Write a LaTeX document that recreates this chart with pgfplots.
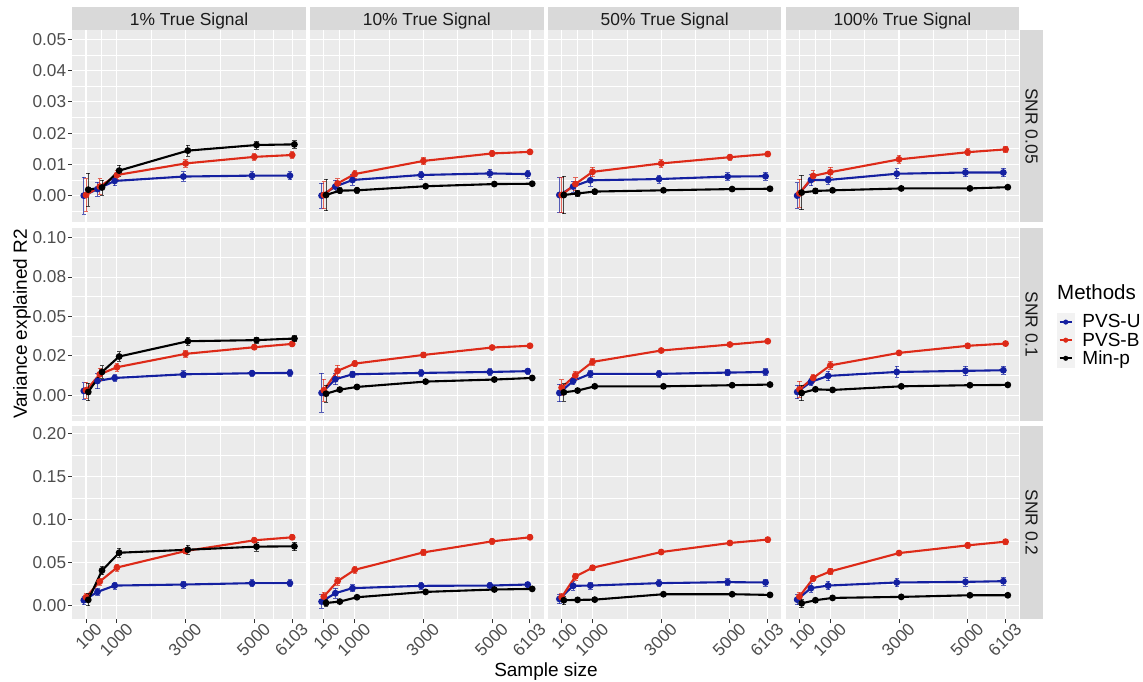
\documentclass[border=0pt]{standalone}
\usepackage{pgfplots}
\pgfplotsset{compat=1.18}
\usepackage{pgfplotstable}
\usepackage{fontspec}
\setmainfont{Liberation Sans}
\definecolor{panelbg}{HTML}{EBEBEB}
\definecolor{stripbg}{HTML}{D9D9D9}
\definecolor{gray30}{HTML}{4D4D4D}
\definecolor{gray20}{HTML}{333333}
\definecolor{striptxt}{HTML}{1A1A1A}
\definecolor{keybg}{HTML}{F2F2F2}
\definecolor{cU}{HTML}{1420A0}
\definecolor{cB}{HTML}{DD2A18}
\definecolor{cM}{HTML}{000000}
\newcommand\tickfont{\fontsize{17.2bp}{20bp}\selectfont}
\newcommand\stripfont{\fontsize{17.4bp}{20bp}\selectfont}
\newcommand\titlefont{\fontsize{19bp}{22bp}\selectfont}
\newcommand\legtitlefont{\fontsize{20.5bp}{24bp}\selectfont}
\newcommand\legfont{\fontsize{19bp}{22bp}\selectfont}

% columns: n  u eu (PVS-U)  b eb (PVS-B)  m em (Min-p)
\pgfplotstableread{
n u eu b eb m em
100 0.0000 0.0059 0.0002 0.0052 0.0019 0.0053
500 0.0021 0.0022 0.0029 0.0025 0.0026 0.0024
1000 0.0047 0.0015 0.0066 0.0015 0.0080 0.0017
3000 0.0061 0.0015 0.0103 0.0012 0.0144 0.0018
5000 0.0064 0.0013 0.0124 0.0010 0.0162 0.0013
6103 0.0064 0.0013 0.0130 0.0010 0.0164 0.0012
}\dataAA
\pgfplotstableread{
n u eu b eb m em
100 0.0000 0.0040 0.0002 0.0043 0.0002 0.0050
500 0.0029 0.0020 0.0039 0.0015 0.0016 0.0010
1000 0.0050 0.0017 0.0069 0.0013 0.0017 0.0010
3000 0.0066 0.0013 0.0111 0.0012 0.0030 0.0005
5000 0.0071 0.0013 0.0135 0.0010 0.0037 0.0004
6103 0.0069 0.0013 0.0140 0.0008 0.0038 0.0004
}\dataAB
\pgfplotstableread{
n u eu b eb m em
100 0.0002 0.0055 0.0002 0.0055 0.0002 0.0060
500 0.0029 0.0018 0.0037 0.0020 0.0007 0.0010
1000 0.0049 0.0018 0.0076 0.0015 0.0013 0.0008
3000 0.0053 0.0013 0.0103 0.0012 0.0017 0.0004
5000 0.0061 0.0012 0.0123 0.0010 0.0021 0.0003
6103 0.0062 0.0012 0.0133 0.0009 0.0022 0.0003
}\dataAC
\pgfplotstableread{
n u eu b eb m em
100 0.0000 0.0041 0.0007 0.0045 0.0010 0.0055
500 0.0050 0.0018 0.0063 0.0017 0.0015 0.0009
1000 0.0050 0.0013 0.0075 0.0016 0.0017 0.0006
3000 0.0070 0.0016 0.0116 0.0013 0.0023 0.0003
5000 0.0074 0.0013 0.0139 0.0011 0.0023 0.0003
6103 0.0074 0.0013 0.0148 0.0010 0.0027 0.0003
}\dataAD
\pgfplotstableread{
n u eu b eb m em
100 0.0028 0.0052 0.0032 0.0050 0.0021 0.0055
500 0.0091 0.0050 0.0133 0.0040 0.0148 0.0040
1000 0.0110 0.0020 0.0178 0.0025 0.0246 0.0030
3000 0.0133 0.0022 0.0263 0.0022 0.0343 0.0025
5000 0.0140 0.0020 0.0305 0.0015 0.0350 0.0020
6103 0.0142 0.0020 0.0326 0.0015 0.0360 0.0020
}\dataBA
\pgfplotstableread{
n u eu b eb m em
100 0.0015 0.0124 0.0032 0.0070 0.0010 0.0055
500 0.0102 0.0035 0.0155 0.0035 0.0036 0.0013
1000 0.0133 0.0020 0.0201 0.0020 0.0053 0.0015
3000 0.0142 0.0020 0.0256 0.0015 0.0087 0.0012
5000 0.0148 0.0020 0.0303 0.0012 0.0100 0.0008
6103 0.0153 0.0020 0.0314 0.0012 0.0110 0.0008
}\dataBB
\pgfplotstableread{
n u eu b eb m em
100 0.0015 0.0055 0.0049 0.0050 0.0019 0.0055
500 0.0091 0.0025 0.0127 0.0025 0.0030 0.0012
1000 0.0136 0.0025 0.0212 0.0020 0.0057 0.0008
3000 0.0136 0.0025 0.0284 0.0015 0.0057 0.0005
5000 0.0144 0.0020 0.0322 0.0012 0.0064 0.0005
6103 0.0148 0.0020 0.0343 0.0012 0.0068 0.0005
}\dataBC
\pgfplotstableread{
n u eu b eb m em
100 0.0021 0.0042 0.0038 0.0050 0.0015 0.0050
500 0.0085 0.0025 0.0110 0.0025 0.0038 0.0015
1000 0.0123 0.0030 0.0190 0.0025 0.0034 0.0006
3000 0.0148 0.0035 0.0269 0.0015 0.0057 0.0005
5000 0.0155 0.0030 0.0314 0.0015 0.0064 0.0005
6103 0.0159 0.0025 0.0328 0.0012 0.0066 0.0005
}\dataBD
\pgfplotstableread{
n u eu b eb m em
100 0.0059 0.0050 0.0094 0.0040 0.0063 0.0070
500 0.0156 0.0040 0.0277 0.0040 0.0406 0.0050
1000 0.0230 0.0040 0.0440 0.0040 0.0613 0.0050
3000 0.0242 0.0040 0.0633 0.0030 0.0648 0.0050
5000 0.0258 0.0040 0.0758 0.0030 0.0684 0.0050
6103 0.0258 0.0040 0.0793 0.0030 0.0688 0.0050
}\dataCA
\pgfplotstableread{
n u eu b eb m em
100 0.0043 0.0080 0.0102 0.0050 0.0027 0.0040
500 0.0141 0.0055 0.0281 0.0050 0.0043 0.0020
1000 0.0200 0.0040 0.0414 0.0040 0.0094 0.0020
3000 0.0227 0.0040 0.0617 0.0030 0.0156 0.0020
5000 0.0230 0.0040 0.0746 0.0030 0.0184 0.0020
6103 0.0242 0.0030 0.0793 0.0030 0.0191 0.0020
}\dataCB
\pgfplotstableread{
n u eu b eb m em
100 0.0074 0.0055 0.0094 0.0050 0.0059 0.0050
500 0.0227 0.0050 0.0336 0.0040 0.0063 0.0015
1000 0.0230 0.0040 0.0438 0.0030 0.0066 0.0015
3000 0.0258 0.0040 0.0621 0.0030 0.0129 0.0012
5000 0.0270 0.0040 0.0727 0.0030 0.0129 0.0010
6103 0.0266 0.0040 0.0766 0.0030 0.0121 0.0010
}\dataCC
\pgfplotstableread{
n u eu b eb m em
100 0.0066 0.0060 0.0102 0.0050 0.0023 0.0050
500 0.0200 0.0050 0.0313 0.0040 0.0059 0.0020
1000 0.0230 0.0050 0.0395 0.0040 0.0086 0.0015
3000 0.0266 0.0050 0.0609 0.0030 0.0098 0.0010
5000 0.0273 0.0050 0.0699 0.0030 0.0117 0.0010
6103 0.0281 0.0050 0.0742 0.0030 0.0117 0.0010
}\dataCD

\pgfplotsset{
 panel/.style={anchor=south west, scale only axis, width=233.5bp, height=192.8bp,
   xmin=-300, xmax=6500,
   axis background/.style={fill=panelbg},
   axis line style={draw=none},
   grid=both,
   major grid style={white, line width=1.1bp},
   minor grid style={white, line width=0.55bp},
   xtick={100,1000,3000,5000,6103}, minor xtick={550,2000,4000,5551.5},
   xticklabels={}, yticklabels={}, scaled ticks=false,
   tick pos=left, tick align=outside, major tick length=4bp, minor tick length=0bp,
   xtick style={draw=none}, ytick style={draw=none},
   tick label style={font=\tickfont, text=gray30},
   xticklabel style={rotate=45, anchor=north east, inner sep=1bp, xshift=8bp, yshift=-4bp},
   yticklabel style={inner sep=2bp}},
 rowA/.style={ymin=-0.0086, ymax=0.0531, ytick={0,0.01,0.02,0.03,0.04,0.05},
   minor ytick={-0.005,0.005,0.015,0.025,0.035,0.045}},
 rowB/.style={ymin=-0.0163, ymax=0.106, ytick={0,0.025,0.05,0.075,0.1},
   minor ytick={-0.0125,0.0125,0.0375,0.0625,0.0875}},
 rowC/.style={ymin=-0.016, ymax=0.2089, ytick={0,0.05,0.1,0.15,0.2},
   minor ytick={0.025,0.075,0.125,0.175}},
 labA/.style={yticklabels={0.00,0.01,0.02,0.03,0.04,0.05}, ytick style={draw=gray20, line width=1bp}},
 labB/.style={yticklabels={0.00,0.02,0.05,0.08,0.10}, ytick style={draw=gray20, line width=1bp}},
 labC/.style={yticklabels={0.00,0.05,0.10,0.15,0.20}, ytick style={draw=gray20, line width=1bp}},
 labX/.style={xticklabels={100,1000,3000,5000,6103}, xtick style={draw=gray20, line width=1bp}},
 ser/.style={#1, line width=2.1bp, mark=*, mark size=2.3bp, forget plot,
   error bars/.cd, y dir=both, y explicit,
   error bar style={line width=0.8bp, opacity=0.7},
   error mark options={#1, rotate=90, mark size=2.2bp, line width=0.8bp, opacity=0.7}},
 keyU/.style={legend image code/.code={%
   \fill[keybg] (0bp,-8.85bp) rectangle (17bp,8.85bp);
   \draw[cU, line width=2.1bp] (2.5bp,0bp) -- (14.5bp,0bp);
   \fill[cU] (8.5bp,0bp) circle (2.3bp);
   \path (25bp,0bp);}},
 keyB/.style={legend image code/.code={%
   \fill[keybg] (0bp,-8.85bp) rectangle (17bp,8.85bp);
   \draw[cB, line width=2.1bp] (2.5bp,0bp) -- (14.5bp,0bp);
   \fill[cB] (8.5bp,0bp) circle (2.3bp);
   \path (25bp,0bp);}},
 keyM/.style={legend image code/.code={%
   \fill[keybg] (0bp,-8.85bp) rectangle (17bp,8.85bp);
   \draw[cM, line width=2.1bp] (2.5bp,0bp) -- (14.5bp,0bp);
   \fill[cM] (8.5bp,0bp) circle (2.3bp);
   \path (25bp,0bp);}},
}

\newcommand\panel[5]{%
 \begin{axis}[panel, at={(#1bp,#2bp)}, #4]
  \addplot[ser=cU] table[x expr=\thisrow{n}-65, y=u, y error=eu] {#3};
  \addplot[ser=cB] table[x=n, y=b, y error=eb] {#3};
  \addplot[ser=cM] table[x expr=\thisrow{n}+65, y=m, y error=em] {#3};
  #5
 \end{axis}}

\begin{document}
\begin{tikzpicture}
\path[use as bounding box] (0,0) rectangle (1143bp,682bp);
% row 1 (SNR 0.05)
\panel{72.3}{459.5}{\dataAA}{rowA,labA}{}
\panel{310.1}{459.5}{\dataAB}{rowA}{}
\panel{547.9}{459.5}{\dataAC}{rowA}{}
\panel{785.7}{459.5}{\dataAD}{rowA}{}
% row 2 (SNR 0.1)
\panel{72.3}{261}{\dataBA}{rowB,labB}{}
\panel{310.1}{261}{\dataBB}{rowB}{}
\panel{547.9}{261}{\dataBC}{rowB}{}
\panel{785.7}{261}{\dataBD}{rowB,
  legend style={at={(axis description cs:1.162,0.560)}, anchor=north west,
   draw=none, fill=none, inner sep=0pt, outer sep=0pt, row sep=0pt, font=\legfont,
   nodes={inner sep=0pt, outer sep=0pt}},
  legend cell align=left}{%
  \addlegendimage{keyU}\addlegendentry{PVS-U}
  \addlegendimage{keyB}\addlegendentry{PVS-B}
  \addlegendimage{keyM}\addlegendentry{Min-p}}
% row 3 (SNR 0.2)
\panel{72.3}{63}{\dataCA}{rowC,labC,labX}{}
\panel{310.1}{63}{\dataCB}{rowC,labX}{}
\panel{547.9}{63}{\dataCC}{rowC,labX}{}
\panel{785.7}{63}{\dataCD}{rowC,labX}{}
% top strips
\fill[stripbg] (72.3bp,652.3bp) rectangle (305.8bp,675bp);
\fill[stripbg] (310.1bp,652.3bp) rectangle (543.6bp,675bp);
\fill[stripbg] (547.9bp,652.3bp) rectangle (781.4bp,675bp);
\fill[stripbg] (785.7bp,652.3bp) rectangle (1019.2bp,675bp);
\node[font=\stripfont, text=striptxt, anchor=base, inner sep=0pt] at (189.05bp,656.3bp) {1\% True Signal};
\node[font=\stripfont, text=striptxt, anchor=base, inner sep=0pt] at (426.85bp,656.3bp) {10\% True Signal};
\node[font=\stripfont, text=striptxt, anchor=base, inner sep=0pt] at (664.65bp,656.3bp) {50\% True Signal};
\node[font=\stripfont, text=striptxt, anchor=base, inner sep=0pt] at (902.45bp,656.3bp) {100\% True Signal};
% right strips
\fill[stripbg] (1020bp,459.5bp) rectangle (1043.3bp,652.3bp);
\fill[stripbg] (1020bp,261bp) rectangle (1043.3bp,453.8bp);
\fill[stripbg] (1020bp,63bp) rectangle (1043.3bp,255.8bp);
\node[font=\stripfont, text=striptxt, rotate=-90, inner sep=0pt] at (1031.65bp,555.9bp) {SNR 0.05};
\node[font=\stripfont, text=striptxt, rotate=-90, inner sep=0pt] at (1031.65bp,357.4bp) {SNR 0.1};
\node[font=\stripfont, text=striptxt, rotate=-90, inner sep=0pt] at (1031.65bp,159.4bp) {SNR 0.2};
% axis titles
\node[font=\titlefont, rotate=90, anchor=base, inner sep=0pt] at (26.9bp,358bp) {Variance explained R2};
\node[font=\titlefont, anchor=base, inner sep=0pt] at (546bp,5.5bp) {Sample size};
% legend title
\node[font=\legtitlefont, anchor=base west, inner sep=0pt] at (1057bp,382bp) {Methods};
\end{tikzpicture}
\end{document}
